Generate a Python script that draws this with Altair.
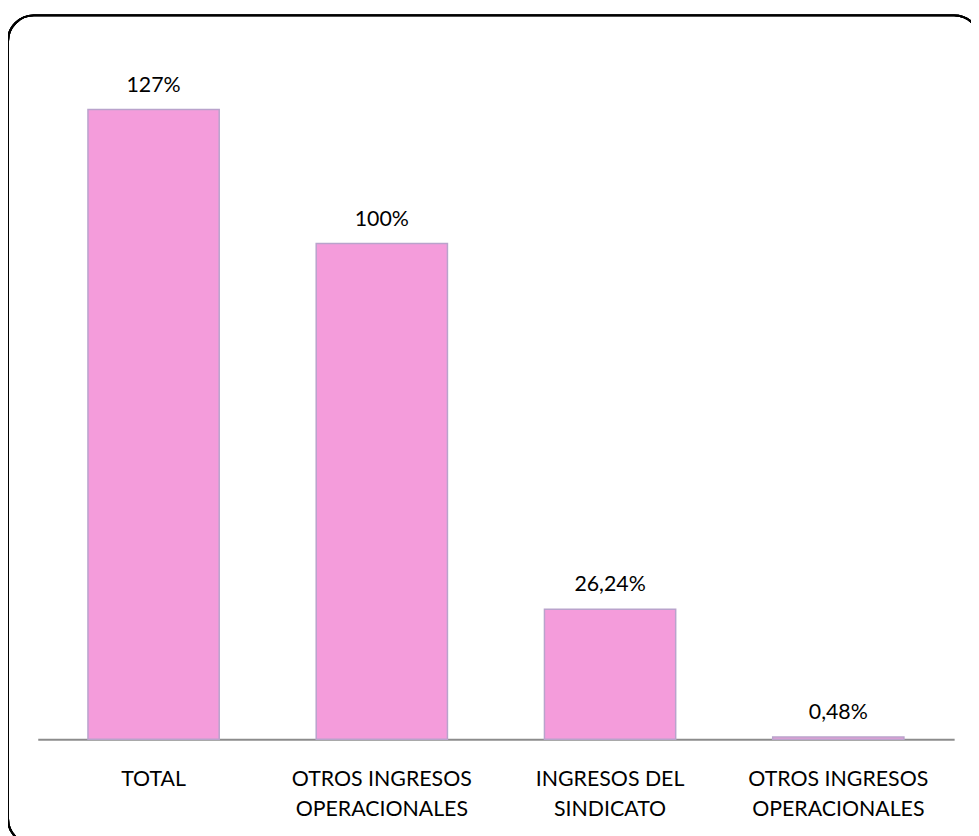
import altair as alt
import pandas as pd

categories = ["TOTAL", "OTROS INGRESOS|OPERACIONALES", "INGRESOS DEL|SINDICATO", "OTROS INGRESOS|OPERACIONALES"]
values = [127, 100, 26.24, 0.48]
value_labels = ["127%", "100%", "26,24%", "0,48%"]

df = pd.DataFrame({
    "idx": list(range(len(categories))),
    "cat": categories,
    "value": values,
    "label": value_labels,
})

label_arr = "[" + ",".join("'" + c + "'" for c in categories) + "]"

FONT = "Lato"
FS = 21.5

x = alt.X("idx:O", scale=alt.Scale(paddingInner=0.425, paddingOuter=0.22),
          axis=alt.Axis(title=None, labelExpr="split(" + label_arr + "[datum.value], '|')",
                        labelAngle=0, ticks=False, domainColor="#8c8c8c", domainWidth=2,
                        labelPadding=30, labelFontSize=FS, labelFont=FONT, labelColor="#000000",
                        labelLineHeight=30, labelBaseline="top", labelLimit=400))
y = alt.Y("value:Q", scale=alt.Scale(domain=[0, 140], nice=False),
          axis=None)

bars = alt.Chart(df).mark_bar(color="#F49CDB", stroke="#B9A3CC", strokeWidth=1.5).encode(x=x, y=y)
text = alt.Chart(df).mark_text(dy=-24, fontSize=FS, font=FONT, color="#000000").encode(
    x=alt.X("idx:O"), y=alt.Y("value:Q"), text="label:N")

frame = alt.Chart(df).mark_rect(fill=None, stroke="#000000", strokeWidth=2, cornerRadius=26,
                                 clip=False).encode(
    x=alt.value(-30), x2=alt.value(950), y=alt.value(-30), y2=alt.value(806))

chart = alt.layer(bars, text, frame).properties(
    width=924, height=700,
    autosize=alt.AutoSizeParams(type="none"),
    padding={"left": 30, "top": 34, "right": 17, "bottom": 94},
).configure_view(stroke=None)

chart.save("out.html", embed_options={"renderer": "svg", "actions": False})
